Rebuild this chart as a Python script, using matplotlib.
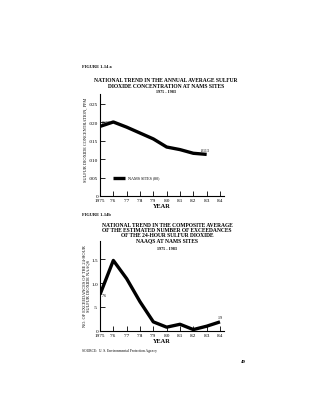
import matplotlib
matplotlib.use("Agg")
import matplotlib.pyplot as plt

plt.rcParams['font.family'] = ['Liberation Serif', 'DejaVu Serif']

# chart a: annual average SO2 concentration (ppm)
years_a = [1975, 1976, 1977, 1978, 1979, 1980, 1981, 1982, 1983]
conc_a = [0.0189, 0.0201, 0.0187, 0.0171, 0.0155, 0.0133, 0.0126, 0.0116, 0.0113]
yticks_a = [0, 0.005, 0.010, 0.015, 0.020, 0.025]
ytick_labels_a = ["0", ".005", ".010", ".015", ".020", ".025"]
legend_a = "NAMS SITES (80)"

# chart b: composite average number of exceedances
years_b = [1975, 1976, 1977, 1978, 1979, 1980, 1981, 1982, 1983, 1984]
exceed_b = [0.76, 1.47, 1.09, 0.61, 0.19, 0.08, 0.14, 0.03, 0.10, 0.19]
yticks_b = [0, 0.5, 1.0, 1.5]
ytick_labels_b = ["0", ".5", "1.0", "1.5"]

xticks = [1975, 1976, 1977, 1978, 1979, 1980, 1981, 1982, 1983, 1984]
xtick_labels = ["1975", "'76", "'77", "'78", "'79", "'80", "'81", "'82", "'83", "'84"]

W, H = 320, 414
fig = plt.figure(figsize=(W / 100, H / 100), dpi=100)


def px(x, y):
    return x / W, 1 - y / H


def style_axes(ax):
    for s in ("top", "right"):
        ax.spines[s].set_visible(False)
    for s in ("left", "bottom"):
        ax.spines[s].set_linewidth(0.8)
    ax.set_xticks(xticks)
    ax.set_xticklabels(xtick_labels)
    ax.tick_params(direction="in", length=3.5, width=0.6, labelsize=3.8, pad=1.5)
    ax.set_xlim(1975, 1984.3)
    ax.set_xlabel("YEAR", fontsize=4.6, fontweight="bold", labelpad=0.5)


# ---- chart a ----
ax1 = fig.add_axes([100 / W, 1 - 197 / H, 124 / W, 102 / H])
style_axes(ax1)
ax1.plot(years_a, conc_a, color="black", lw=2.4, solid_capstyle="butt")
ax1.set_ylim(0, 0.0277)
ax1.set_yticks(yticks_a)
ax1.set_yticklabels(ytick_labels_a)
ax1.text(years_a[0] + 0.1, conc_a[0] + 0.0006, "." + f"{conc_a[0]:.4f}".split(".")[1],
         fontsize=3, ha="left", va="bottom")
ax1.text(years_a[-1] - 0.1, conc_a[-1] + 0.0006, "." + f"{conc_a[-1]:.4f}".split(".")[1],
         fontsize=3, ha="center", va="bottom")
ax1.plot([1976.0, 1976.9], [0.005, 0.005], color="black", lw=2.4, solid_capstyle="butt")
ax1.text(1977.1, 0.005, legend_a, fontsize=3, va="center", ha="left")

fig.text(*px(82, 67), "FIGURE 1-14 a", fontsize=3.2, fontweight="bold", va="center")
fig.text(*px(166, 83.5), "NATIONAL TREND IN THE ANNUAL AVERAGE SULFUR\nDIOXIDE CONCENTRATION AT NAMS SITES",
         fontsize=4.0, fontweight="bold", ha="center", va="center", linespacing=1.0)
fig.text(*px(166, 92), "1975 - 1983", fontsize=3.0, fontweight="bold", ha="center", va="center")
fig.text(*px(86, 140), "SULFUR DIOXIDE CONCENTRATION, PPM", fontsize=3.2,
         rotation=90, ha="center", va="center")

# ---- chart b ----
ax2 = fig.add_axes([100 / W, 1 - 332 / H, 124 / W, 90 / H])
style_axes(ax2)
ax2.plot(years_b, exceed_b, color="black", lw=2.4, solid_capstyle="butt")
ax2.set_ylim(0, 1.875)
ax2.set_yticks(yticks_b)
ax2.set_yticklabels(ytick_labels_b)
ax2.text(years_b[0] + 0.15, exceed_b[0], f"{exceed_b[0]:.2f}".lstrip("0"), fontsize=3,
         ha="left", va="center")
ax2.text(years_b[-1], exceed_b[-1] + 0.06, f"{exceed_b[-1]:.2f}".lstrip("0"), fontsize=3,
         ha="center", va="bottom")

fig.text(*px(82, 215), "FIGURE 1-14b", fontsize=3.2, fontweight="bold", va="center")
fig.text(*px(167, 233), "NATIONAL TREND IN THE COMPOSITE AVERAGE\nOF THE ESTIMATED NUMBER OF EXCEEDANCES\n"
         "OF THE 24-HOUR SULFUR DIOXIDE\nNAAQS AT NAMS SITES",
         fontsize=4.0, fontweight="bold", ha="center", va="center", linespacing=1.0)
fig.text(*px(167, 249), "1975 - 1983", fontsize=3.0, fontweight="bold", ha="center", va="center")
fig.text(*px(86.5, 286), "NO. OF EXCEEDANCES OF THE 24-HOUR\nSULFUR DIOXIDE NAAQS", fontsize=3.2,
         rotation=90, ha="center", va="center", linespacing=1.0)

fig.text(*px(82, 351.5), "SOURCE:  U. S. Environmental Protection Agency", fontsize=2.6, va="center")
fig.text(*px(243, 362), "49", fontsize=3.4, fontweight="bold", ha="center", va="center")

fig.savefig("out.png", dpi=100)
